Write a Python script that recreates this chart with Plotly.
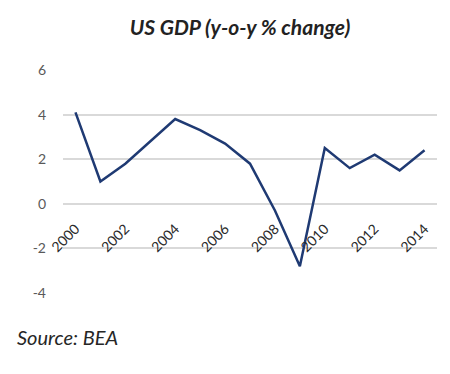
import plotly.graph_objects as go

years = list(range(2000, 2015))
gdp_change = [4.1, 1.0, 1.8, 2.8, 3.8, 3.3, 2.7, 1.8, -0.3, -2.8, 2.5, 1.6, 2.2, 1.5, 2.4]
x_ticks = [2000, 2002, 2004, 2006, 2008, 2010, 2012, 2014]
y_ticks = [-4, -2, 0, 2, 4, 6]
y_tick_labels = ["-4", "-2", "0", "2", "4", "6"]

FONT = "Lato"
PLOT_H = 374 - 70 - 81  # plot area height in px
ZERO_FROM_BOTTOM = PLOT_H * (0 - (-4)) / (6 - (-4))

fig = go.Figure()
fig.add_trace(go.Scatter(
    x=years, y=gdp_change, mode="lines",
    line=dict(color="#1F3A73", width=2.5),
    hoverinfo="skip",
))

fig.update_layout(
    width=450, height=374,
    margin=dict(l=63, r=13, t=70, b=81, autoexpand=False),
    paper_bgcolor="white", plot_bgcolor="white",
    showlegend=False,
    font=dict(family=FONT, color="#595959"),
    title=dict(
        text="<b><i>US GDP (y-o-y % change)</i></b>",
        x=240 / 450, xanchor="center", xref="container",
        y=1 - 28 / 374, yanchor="middle", yref="container",
        font=dict(family=FONT, size=21, color="#222222"),
    ),
    xaxis=dict(
        range=[1999.5, 2014.5],
        tickmode="array", tickvals=x_ticks, ticktext=[str(t) for t in x_ticks],
        tickangle=-45,
        showgrid=False, zeroline=False, showline=False,
        ticks="", automargin=False,
        ticklabelstandoff=int(13 - ZERO_FROM_BOTTOM),
        tickfont=dict(family=FONT, size=14, color="#2A2A2A"),
    ),
    yaxis=dict(
        range=[-4, 6], automargin=False,
        tickmode="array", tickvals=y_ticks, ticktext=y_tick_labels,
        showgrid=True, gridcolor="#D9D9D9", gridwidth=1.5,
        zeroline=False, showline=False, ticks="",
        ticklabelstandoff=16,
        tickfont=dict(family=FONT, size=14, color="#595959"),
    ),
    annotations=[dict(
        text="<i>Source: BEA</i>",
        xref="paper", yref="paper",
        x=-48 / 374, xanchor="left",
        y=-(337 - 293) / 223, yanchor="middle",
        showarrow=False,
        font=dict(family=FONT, size=20, color="#262626"),
    )],
)

fig.write_html(
    "out.html",
    config={"displayModeBar": False},
    post_script="document.body.style.margin='0';",
)
